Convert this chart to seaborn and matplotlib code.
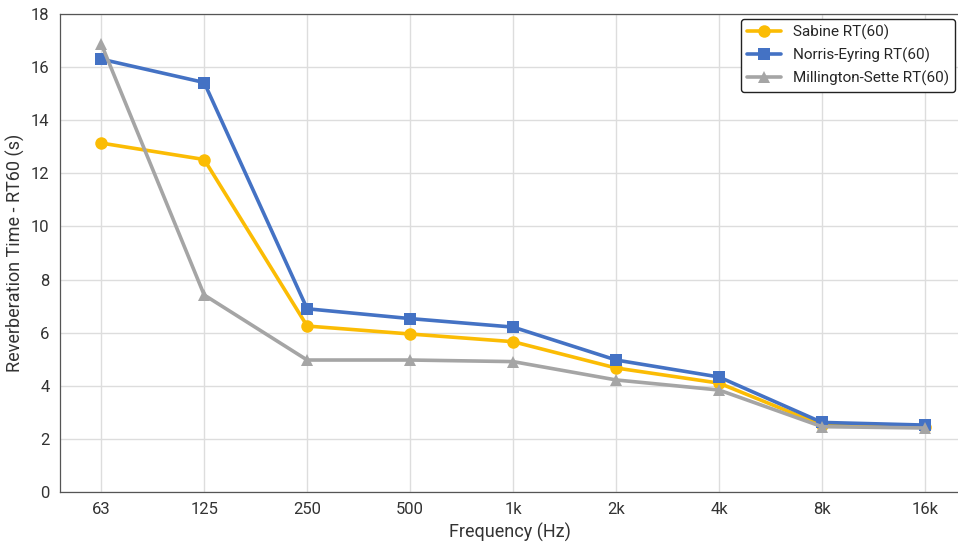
import numpy as np
import pandas as pd
import matplotlib.pyplot as plt
import seaborn as sns

freqs = ["63", "125", "250", "500", "1k", "2k", "4k", "8k", "16k"]
sabine = [13.14, 12.52, 6.25, 5.95, 5.66, 4.67, 4.10, 2.52, 2.46]
norris_eyring = [16.30, 15.42, 6.90, 6.53, 6.21, 4.97, 4.33, 2.62, 2.52]
millington_sette = [16.88, 7.42, 4.97, 4.97, 4.91, 4.22, 3.84, 2.46, 2.41]

series = [
    ("Sabine RT(60)", sabine, "#FBBC04", "o"),
    ("Norris-Eyring RT(60)", norris_eyring, "#4472C4", "s"),
    ("Millington-Sette RT(60)", millington_sette, "#A5A5A5", "^"),
]

sns.set_style("white")
plt.rcParams['font.family'] = ['Roboto', 'DejaVu Sans']

fig = plt.figure(figsize=(9.58, 5.43), dpi=100)
ax = fig.add_axes([60 / 958, 51 / 543, 900 / 958, 478 / 543])

pos = np.arange(len(freqs))
for name, vals, color, marker in series:
    df = pd.DataFrame({"x": pos, "y": vals})
    sns.lineplot(data=df, x="x", y="y", ax=ax, color=color, marker=marker,
                 markersize=9, markeredgewidth=0, linewidth=2.6, label=name)

ax.set_xticks(pos)
ax.set_xticklabels(freqs)
ax.set_xlim(-0.4, 8.34)
ax.set_ylim(0, 18)
ax.set_yticks(range(0, 19, 2))
ax.grid(True, color="#DDDDDD", linewidth=1)
ax.tick_params(axis="both", labelsize=12, colors="#333333", length=4, width=0.8)
for s in ax.spines.values():
    s.set_color("#555555")
    s.set_linewidth(0.9)
ax.set_xlabel("Frequency (Hz)", fontsize=13, color="#333333")
ax.set_ylabel("Reverberation Time - RT60 (s)", fontsize=13, color="#333333")

leg = ax.legend(loc="upper right", fontsize=11, frameon=True, fancybox=True,
                edgecolor="#222222", framealpha=1, handlelength=2.2,
                borderaxespad=0.3)
leg.get_frame().set_linewidth(1.0)

fig.savefig("out.png", dpi=100)
